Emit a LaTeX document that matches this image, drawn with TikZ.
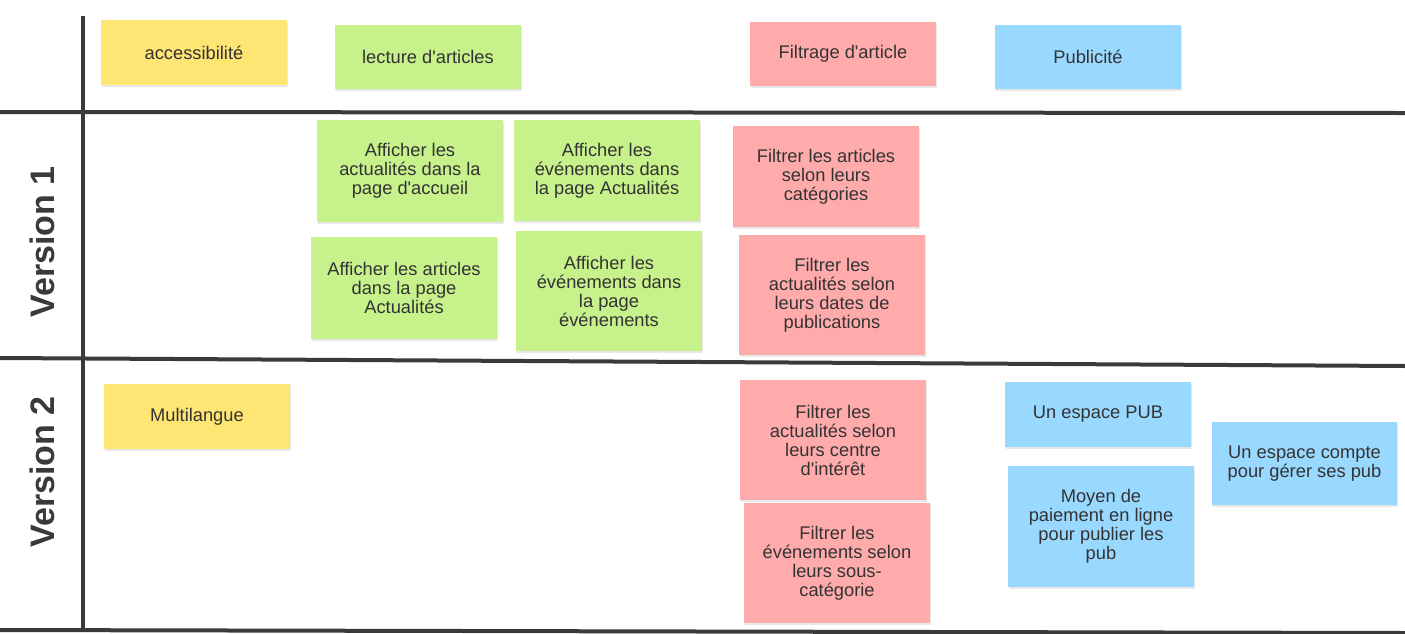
\documentclass[tikz,border=0pt]{standalone}
\usepackage{fontspec}
\setmainfont{Liberation Sans}
\usetikzlibrary{shadows}
\definecolor{jaune}{HTML}{FFE574}
\definecolor{vert}{HTML}{C6F18B}
\definecolor{rose}{HTML}{FFABAB}
\definecolor{bleu}{HTML}{9AD9FF}
\definecolor{encre}{HTML}{333333}
\definecolor{trait}{HTML}{3A3A3A}
\newcommand{\apos}{\textquotesingle}
\begin{document}
\begin{tikzpicture}[x=1pt, y=-1pt,
      every node/.style={font=\fontsize{18.3}{19}\selectfont, text=encre},
      note/.style={minimum width=186pt, align=center, inner sep=0pt,
                   drop shadow={opacity=0.18, shadow xshift=1pt, shadow yshift=-2pt}},
      njaune/.style={note, fill=jaune}, nvert/.style={note, fill=vert},
      nrose/.style={note, fill=rose}, nbleu/.style={note, fill=bleu},
      grille/.style={draw=trait, line width=4pt},
      version/.style={rotate=90, font=\fontsize{34}{34}\bfseries\selectfont, text=trait}]
    \useasboundingbox (0,0) rectangle (1405,633);
    % grille
    \draw[grille] (83,16) -- (83,630);
    \draw[grille] (0,112) -- (1405,113);
    \draw[grille] (0,358) -- (1405,366);
    \draw[grille] (0,630) -- (1405,633);
    \node[version] (v1) at (42,242) {Version 1};
    \node[version] (v2) at (42,472) {Version 2};
    % themes
    \node[njaune, minimum height=65pt] (acc) at (194,52.5) {accessibilité};
    \node[nvert, minimum height=64pt] (lec) at (428,57) {lecture d\apos articles};
    \node[nrose, minimum height=64pt] (fil) at (843,54) {Filtrage d\apos article};
    \node[nbleu, minimum height=64pt] (pub) at (1088,57) {Publicité};
    % version 1
    \node[nvert, minimum height=102pt] (actu) at (410,171) {Afficher les\\ actualités dans la\\ page d\apos accueil};
    \node[nvert, minimum height=101pt] (evact) at (607,170.5) {Afficher les\\ événements dans\\ la page Actualités};
    \node[nvert, minimum height=102pt] (art) at (404,288) {Afficher les articles\\ dans la page\\ Actualités};
    \node[nvert, minimum height=120pt] (evev) at (609,291) {Afficher les\\ événements dans\\ la page\\ événements};
    \node[nrose, minimum height=101pt] (cat) at (826,176.5) {Filtrer les articles\\ selon leurs\\ catégories};
    \node[nrose, minimum height=120pt] (dates) at (832,295) {Filtrer les\\ actualités selon\\ leurs dates de\\ publications};
    % version 2
    \node[njaune, minimum height=65pt] (multi) at (197,416.5) {Multilangue};
    \node[nrose, minimum height=120pt] (inter) at (833,440) {Filtrer les\\ actualités selon\\ leurs centre\\ d\apos intérêt};
    \node[nrose, minimum height=120pt] (souscat) at (837,563) {Filtrer les\\ événements selon\\ leurs sous-\\ catégorie};
    \node[nbleu, minimum height=65pt] (espace) at (1098,414.5) {Un espace PUB};
    \node[nbleu, minimum height=83pt, minimum width=185pt] (compte) at (1304.5,463.5) {Un espace compte\\ pour gérer ses pub};
    \node[nbleu, minimum height=121pt] (paie) at (1101,526.5) {Moyen de\\ paiement en ligne\\ pour publier les\\ pub};
\end{tikzpicture}
\end{document}
